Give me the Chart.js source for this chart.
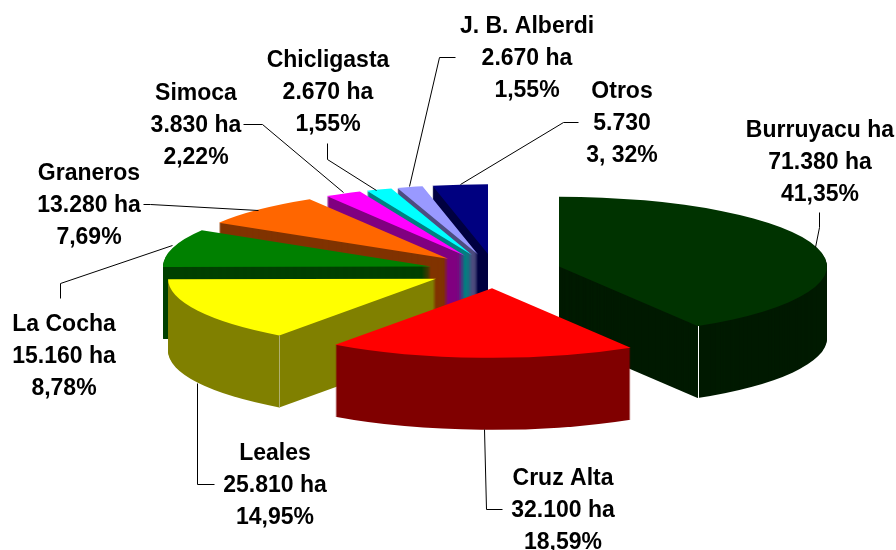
<!DOCTYPE html>
<html><head><meta charset="utf-8">
<style>html,body{margin:0;padding:0;background:#fff}#c{display:block}</style>
<script src="https://cdn.jsdelivr.net/npm/chart.js@4"></script>
</head><body>
<div style="width:896px;height:550px"><canvas id="c" width="896" height="550"></canvas></div>
<script>
const categories = ['Burruyacu ha','Cruz Alta','Leales','La Cocha','Graneros','Simoca','Chicligasta','J. B. Alberdi','Otros'];
const hectares = [71380,32100,25810,15160,13280,3830,2670,2670,5730];
const haLabels = ['71.380 ha','32.100 ha','25.810 ha','15.160 ha','13.280 ha','3.830 ha','2.670 ha','2.670 ha','5.730'];
const pctLabels = ['41,35%','18,59%','14,95%','8,78%','7,69%','2,22%','1,55%','1,55%','3, 32%'];
const topColors = ['#003300','#ff0000','#ffff00','#008000','#ff6600','#ff00ff','#00ffff','#9999ff','#000080'];
const wallColors = ['#001a00','#800000','#808000','#004000','#803300','#800080','#008080','#4d4d80','#000040'];
const paintOrder = [0,8,7,6,5,4,3,2,1];
/* light corner lines: slice index -> colour and which end of the arc */
const cornerLines = [{slice:0,color:'#ffffff',end:'endAngle'},{slice:2,color:'#b0b070',end:'startAngle'}];

/* layout of the annotations: [centre x, first baseline] and leader polylines */
const labelAnchors = [[820,137],[563,485],[275,460],[64,331],[89,180],[196,100],[328,67],[527,33],[622,98]];
const leaders = [
 [[819,212],[819,227],[815,247]],
 [[502,509],[486,509],[484,429]],
 [[214,484],[197,484],[197,383]],
 [[60,298],[60,283],[172,245]],
 [[143,204],[150,204],[258,210]],
 [[243,124],[262,124],[343,192]],
 [[327,143],[327,159],[376,190]],
 [[455,57],[439,57],[409,186]],
 [[578,122],[563,122],[460,184]]
];
const tilt = 0.26, depth = 72, explode = 66, radius = 268, centerY = 271;

const pie3d = {
  id:'pie3d',
  beforeDatasetsDraw(chart){
    const ctx = chart.ctx, arcs = chart.getDatasetMeta(0).data;
    const apex = el => {
      const mid = (el.startAngle + el.endAngle)/2;
      return {x:Math.round(el.x + Math.cos(mid)*explode), y:centerY + Math.sin(mid)*explode*tilt};
    };
    for (const i of paintOrder){
      const el = arcs[i], a = apex(el);
      ctx.fillStyle = wallColors[i];
      for (let d = depth; d >= 1; d--){
        ctx.beginPath();
        ctx.moveTo(a.x,a.y+d);
        ctx.ellipse(a.x,a.y+d,el.outerRadius,el.outerRadius*tilt,0,el.startAngle,el.endAngle);
        ctx.closePath();
        ctx.fill();
      }
      ctx.save();
      ctx.translate(a.x,a.y);
      ctx.scale(1,tilt);
      ctx.translate(-el.x,-el.y);
      el.draw(ctx);
      ctx.restore();
      cornerLines.filter(c=>c.slice===i).forEach(c=>{
        const sx = Math.round(a.x + Math.cos(el[c.end])*el.outerRadius)+.5;
        const sy = a.y + Math.sin(el[c.end])*el.outerRadius*tilt;
        ctx.strokeStyle = c.color; ctx.lineWidth = 1;
        ctx.beginPath(); ctx.moveTo(sx,sy); ctx.lineTo(sx,sy+depth); ctx.stroke();
      });
    }
    return false;
  },
  afterDraw(chart){
    const ctx = chart.ctx;
    ctx.save();
    ctx.strokeStyle = '#000'; ctx.lineWidth = 1;
    leaders.forEach(pts=>{
      ctx.beginPath();
      pts.forEach((p,j)=> j ? ctx.lineTo(p[0]+.5,p[1]+.5) : ctx.moveTo(p[0]+.5,p[1]+.5));
      ctx.stroke();
    });
    ctx.fillStyle = '#000';
    ctx.font = 'bold 23px "Liberation Sans", Arial, sans-serif';
    ctx.textAlign = 'center'; ctx.textBaseline = 'alphabetic';
    categories.forEach((name,i)=>{
      const [x,y] = labelAnchors[i];
      ctx.fillText(name,x,y);
      ctx.fillText(haLabels[i],x,y+32);
      ctx.fillText(pctLabels[i],x,y+64);
    });
    ctx.restore();
  }
};

new Chart(document.getElementById('c'),{
  type:'pie',
  data:{labels:categories,datasets:[{data:hectares,backgroundColor:topColors,borderWidth:0}]},
  options:{
    responsive:false,animation:false,radius:radius,
    layout:{padding:{left:94}},
    plugins:{legend:{display:false},tooltip:{enabled:false},title:{display:false}}
  },
  plugins:[pie3d]
});
</script>
</body></html>
